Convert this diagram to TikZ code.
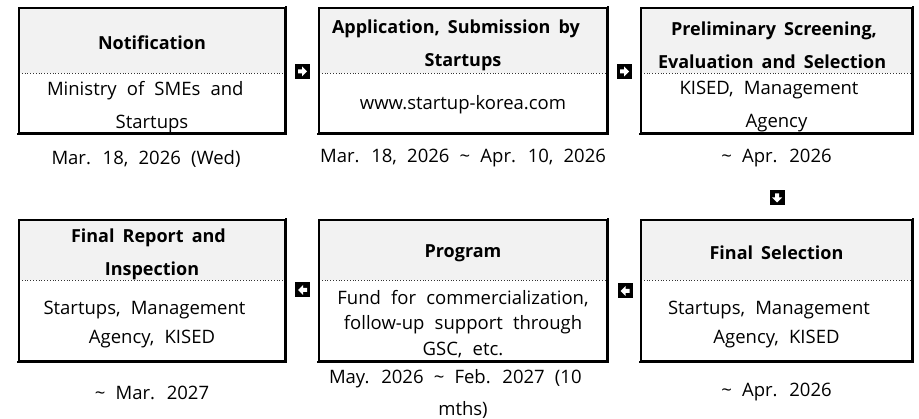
\documentclass[tikz,border=0pt]{standalone}
\usepackage{fontspec}
\setmainfont{Open Sans}
\definecolor{hdrgray}{HTML}{F2F2F2}
\newcommand{\hdrfnt}{\fontsize{18}{33}\selectfont\bfseries\spaceskip=0.45em\relax}
\newcommand{\bodyfnt}[1]{\fontsize{18.5}{#1}\selectfont\spaceskip=0.55em\relax}
\newcommand{\datefnt}{\fontsize{18.5}{32}\selectfont\spaceskip=0.55em\relax}
\newcommand{\jl}[2]{\makebox[#1pt][s]{#2}}
\tikzset{
  frame/.style={draw=black, line width=1.1pt, minimum width=#1, minimum height=0pt, inner sep=0pt},
  hdr/.style={font=\hdrfnt, align=center, inner sep=0pt},
  body/.style={font={\bodyfnt{#1}}, align=center, inner sep=0pt},
  body/.default=32,
  datelbl/.style={font=\datefnt, align=center, inner sep=0pt},
  icon/.style={fill=black, minimum size=15pt, inner sep=0pt},
  divider/.style={dotted, line width=0.8pt, black!80},
  shade edge/.style={line width=2pt, line cap=rect}
}
\newcommand{\rarr}[1]{%
  \fill[white] ([shift={(-4.5pt,-2pt)}]#1.center) -- ++(4pt,0) -- ++(0,-3pt) -- ++(5pt,5pt) -- ++(-5pt,5pt) -- ++(0,-3pt) -- ++(-4pt,0) -- cycle;}
\newcommand{\larr}[1]{%
  \fill[white] ([shift={(4.5pt,-2pt)}]#1.center) -- ++(-4pt,0) -- ++(0,-3pt) -- ++(-5pt,5pt) -- ++(5pt,5pt) -- ++(0,-3pt) -- ++(4pt,0) -- cycle;}
\newcommand{\darr}[1]{%
  \fill[white] ([shift={(-2pt,4.5pt)}]#1.center) -- ++(0,-4pt) -- ++(-3pt,0) -- ++(5pt,-5pt) -- ++(5pt,5pt) -- ++(-3pt,0) -- ++(0,4pt) -- cycle;}
\begin{document}
\begin{tikzpicture}[x=1pt,y=-1pt]
\useasboundingbox (0,0) rectangle (919,419);

% ---------- header fills ----------
\fill[hdrgray] (19,8) rectangle (285,73);
\fill[hdrgray] (319,8) rectangle (607,73);
\fill[hdrgray] (641,8) rectangle (912,73);
\fill[hdrgray] (19,220) rectangle (285,280);
\fill[hdrgray] (319,220) rectangle (607,280);
\fill[hdrgray] (641,220) rectangle (912,280);

% ---------- dividers ----------
\draw[divider] (19,73) -- (285,73);
\draw[divider] (319,73) -- (607,73);
\draw[divider] (641,73) -- (912,73);
\draw[divider] (19,280.5) -- (285,280.5);
\draw[divider] (319,280.5) -- (607,280.5);
\draw[divider] (641,280.5) -- (912,280.5);

% ---------- frames ----------
\node[frame=266pt, minimum height=125pt] (b1) at (152,70.5) {};
\node[frame=288pt, minimum height=125pt] (b2) at (463,70.5) {};
\node[frame=271pt, minimum height=125pt] (b3) at (776.5,70.5) {};
\node[frame=266pt, minimum height=141pt] (b4) at (152,290.5) {};
\node[frame=288pt, minimum height=141pt] (b5) at (463,290.5) {};
\node[frame=271pt, minimum height=141pt] (b6) at (776.5,290.5) {};
\foreach \b in {b1,b2,b3,b4,b5,b6}
  \draw[shade edge] (\b.north east) -- (\b.south east) -- (\b.south west);

% ---------- headers ----------
\node[hdr] (h1) at (152,42.5) {Notification};
\node[hdr] (h2) at (463,45) {\jl{262}{Application, Submission by}\\Startups};
\node[hdr] (h3) at (776.5,45) {\jl{211}{Preliminary Screening,}\\\jl{237}{Evaluation and Selection}};
\node[hdr] (h4) at (152,254) {\jl{162}{Final Report and}\\Inspection};
\node[hdr] (h5) at (463,253) {Program};
\node[hdr] (h6) at (776.5,253) {Final Selection};

% ---------- bodies ----------
\node[body=33] (t1) at (152,107) {\jl{210}{Ministry of SMEs and}\\Startups};
\node[body] (t2) at (463,105) {www.startup-korea.com};
\node[body=33] (t3) at (776.5,107) {\jl{194}{KISED, Management}\\Agency};
\node[body=29] (t4) at (152,325) {\jl{217}{Startups, Management}\\Agency, KISED};
\node[body=25.5] (t5) at (463,324) {Fund for commercialization,\\follow-up support through\\GSC, etc.};
\node[body=29] (t6) at (776.5,325) {\jl{217}{Startups, Management}\\Agency, KISED};

% ---------- dates ----------
\node[datelbl] (d1) at (152,158.5) {\jl{201}{Mar. 18, 2026 (Wed)}};
\node[datelbl] (d2) at (463,158.5) {Mar. 18, 2026 \textasciitilde\ Apr. 10, 2026};
\node[datelbl] (d3) at (776.5,158.5) {\textasciitilde\ Apr. 2026};
\node[datelbl] (d4) at (152,392.5) {\textasciitilde\ Mar. 2027};
\node[datelbl] (d5) at (463,393.5) {\jl{268}{May. 2026 \textasciitilde\ Feb. 2027 (10}\\mths)};
\node[datelbl] (d6) at (776.5,392.5) {\textasciitilde\ Apr. 2026};

% ---------- arrow icons ----------
\node[icon] (a12) at (302.5,71.5) {};
\node[icon] (a23) at (624.5,71.5) {};
\node[icon] (a36) at (777,198) {};
\node[icon] (a65) at (625,291) {};
\node[icon] (a54) at (302.5,290) {};
\rarr{a12}
\rarr{a23}
\darr{a36}
\larr{a65}
\larr{a54}
\end{tikzpicture}
\end{document}
